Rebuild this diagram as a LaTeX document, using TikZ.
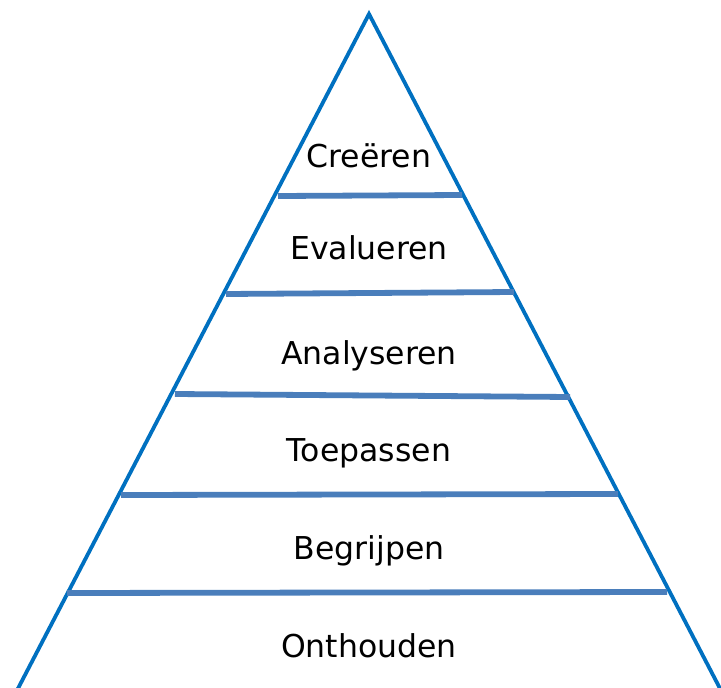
\documentclass[tikz,border=0pt]{standalone}
\usepackage{fontspec}
\setmainfont{DejaVu Sans}
\usepackage{tikz}
\usetikzlibrary{calc}
\definecolor{pyramidblue}{HTML}{0070C0}
\definecolor{layerblue}{HTML}{4A7EBB}

\begin{document}
\begin{tikzpicture}
  [x=1pt,y=-1pt,
   side/.style={draw=pyramidblue,line width=3.8pt,line join=miter},
   layer/.style={draw=layerblue,line width=5.8pt},
   level/.style={anchor=base,inner sep=0pt,
                 font=\fontsize{31.5}{36}\selectfont}]
  \useasboundingbox (0,0) rectangle (721,688);
  \clip (0,0) rectangle (721,688);
  % pyramid outline
  \coordinate (top) at (369,14);
  \coordinate (bl) at (12,700);
  \coordinate (br) at (726,700);
  \draw[side] (bl) -- (top) -- (br);
  % layer dividers
  \coordinate (l1a) at (278,196); \coordinate (l1b) at (462,195);
  \coordinate (l2a) at (226,294); \coordinate (l2b) at (514,292);
  \coordinate (l3a) at (175,394); \coordinate (l3b) at (570,397);
  \coordinate (l4a) at (121,495); \coordinate (l4b) at (618,494);
  \coordinate (l5a) at (67,593);  \coordinate (l5b) at (667,592);
  \foreach \i in {1,...,5}
    \draw[layer] (l\i a) -- (l\i b);
  % levels
  \node[level] (creeren)    at (369,167) {Creëren};
  \node[level] (evalueren)  at (369,259) {Evalueren};
  \node[level] (analyseren) at (369,364) {Analyseren};
  \node[level] (toepassen)  at (369,461) {Toepassen};
  \node[level] (begrijpen)  at (369,559) {Begrijpen};
  \node[level] (onthouden)  at (369,657) {Onthouden};
\end{tikzpicture}
\end{document}
